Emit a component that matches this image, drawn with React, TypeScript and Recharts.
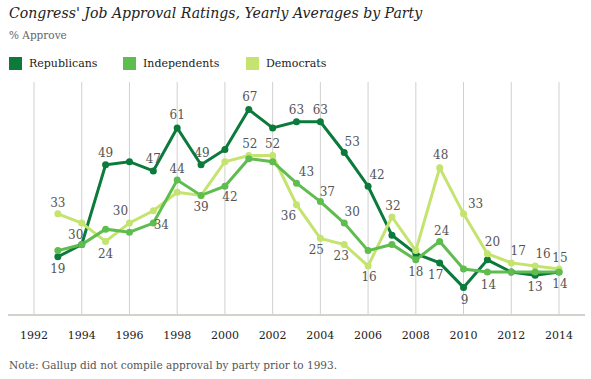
import React from 'react';
import { LineChart, Line, XAxis, YAxis, CartesianGrid, LabelList } from 'recharts';

const years = [1993, 1994, 1995, 1996, 1997, 1998, 1999, 2000, 2001, 2002, 2003, 2004, 2005, 2006, 2007, 2008, 2009, 2010, 2011, 2012, 2013, 2014];
const republicans = [19, 23, 49, 50, 47, 61, 49, 54, 67, 61, 63, 63, 53, 42, 26, 20, 17, 9, 18, 14, 13, 14];
const independents = [21, 23, 28, 27, 30, 44, 39, 42, 51, 50, 43, 37, 30, 21, 23, 18, 24, 15, 14, 14, 14, 14];
const democrats = [33, 30, 24, 30, 34, 40, 39, 50, 52, 52, 36, 25, 23, 16, 32, 21, 48, 33, 20, 17, 16, 15];
const tickYears = [1992, 1994, 1996, 1998, 2000, 2002, 2004, 2006, 2008, 2010, 2012, 2014];

const title = "Congress' Job Approval Ratings, Yearly Averages by Party";
const subtitle = '% Approve';
const note = 'Note: Gallup did not compile approval by party prior to 1993.';

const COLORS = { rep: '#0b7a3b', ind: '#5fbd50', dem: '#c4e36f' };
const FONT = 'DejaVu Serif';

// label placement: year -> [dx, dy] offset of label centre from the point
const repLabels: Record<number, [number, number]> = {
  1993: [0, 12], 1995: [0, -12], 1997: [0, -12], 1998: [0, -13], 1999: [1, -12], 2001: [1, -13],
  2003: [0, -12], 2004: [0, -12], 2005: [8, -11], 2006: [9, -11], 2009: [-4, 12], 2010: [1, 13], 2013: [0, 12],
};
const indLabels: Record<number, [number, number]> = {
  1998: [0, -11], 1999: [0, 12], 2000: [5, 11], 2003: [10, -11], 2004: [7, -10], 2005: [8, -11],
  2008: [0, 12], 2009: [2, -10], 2011: [1, 13], 2014: [1, 12],
};
const demLabels: Record<number, [number, number]> = {
  1993: [0, -11], 1994: [-6, 12], 1995: [0, 13], 1996: [-9, -12], 1997: [8, 14], 2001: [1, -12],
  2002: [0, -12], 2003: [-8, 11], 2004: [-4, 12], 2005: [-3, 12], 2006: [1, 11], 2007: [1, -11],
  2009: [1, -13], 2010: [12, -10], 2011: [5, -12], 2012: [7, -12], 2013: [8, -12], 2014: [1, -11],
};

const data = years.map((year, i) => ({
  year,
  rep: republicans[i],
  ind: independents[i],
  dem: democrats[i],
}));

const makeLabel = (placement: Record<number, [number, number]>) => (props: any) => {
  const { x, y, value, index } = props;
  const yr = years[index];
  const p = placement[yr];
  if (!p) return null;
  return (
    <text
      x={x + p[0]}
      y={y + p[1]}
      textAnchor="middle"
      dominantBaseline="central"
      fontFamily={FONT}
      fontSize={12}
      fill="#555"
    >
      {value}
    </text>
  );
};

const legendItems = [
  { name: 'Republicans', color: COLORS.rep, x: 9 },
  { name: 'Independents', color: COLORS.ind, x: 123 },
  { name: 'Democrats', color: COLORS.dem, x: 246 },
];

export default function App() {
  return (
    <div style={{ position: 'absolute', left: 0, top: 0, width: 591, height: 379, background: '#fff', fontFamily: FONT }}>
      <div style={{ position: 'absolute', left: 9, top: 5, fontSize: 14.1, fontStyle: 'italic', color: '#222', whiteSpace: 'nowrap' }}>
        {title}
      </div>
      <div style={{ position: 'absolute', left: 9, top: 29, fontSize: 10.5, color: '#666', whiteSpace: 'nowrap' }}>
        {subtitle}
      </div>
      {legendItems.map((it) => (
        <div key={it.name} style={{ position: 'absolute', left: it.x, top: 56, height: 15, display: 'flex', alignItems: 'center', whiteSpace: 'nowrap' }}>
          <span style={{ display: 'inline-block', width: 13, height: 13, background: it.color, marginRight: 7 }} />
          <span style={{ fontSize: 11, color: '#222' }}>{it.name}</span>
        </div>
      ))}
      <div style={{ position: 'absolute', left: 0, top: 0 }}>
        <LineChart width={591} height={379} data={data} margin={{ top: 82, right: 6, bottom: 0, left: 8 }}>
          <CartesianGrid horizontal={false} vertical={true} stroke="#d0d0d0" verticalValues={tickYears} />
          <XAxis
            dataKey="year"
            type="number"
            domain={[1990.91, 2015.09]}
            ticks={tickYears}
            allowDataOverflow
            axisLine={{ stroke: '#d3d2cb', strokeWidth: 2 }}
            tickLine={false}
            tickMargin={10}
            tick={{ fontFamily: FONT, fontSize: 11, fill: '#222' }}
            height={64}
          />
          <YAxis hide domain={[0, 76]} type="number" allowDataOverflow />
          <Line dataKey="rep" stroke={COLORS.rep} strokeWidth={3} dot={{ r: 3.5, fill: COLORS.rep, stroke: COLORS.rep, strokeWidth: 0 }} isAnimationActive={false}>
            <LabelList dataKey="rep" content={makeLabel(repLabels)} />
          </Line>
          <Line dataKey="dem" stroke={COLORS.dem} strokeWidth={3} dot={{ r: 3.5, fill: COLORS.dem, stroke: COLORS.dem, strokeWidth: 0 }} isAnimationActive={false}>
            <LabelList dataKey="dem" content={makeLabel(demLabels)} />
          </Line>
          <Line dataKey="ind" stroke={COLORS.ind} strokeWidth={3} dot={{ r: 3.5, fill: COLORS.ind, stroke: COLORS.ind, strokeWidth: 0 }} isAnimationActive={false}>
            <LabelList dataKey="ind" content={makeLabel(indLabels)} />
          </Line>
        </LineChart>
      </div>
      <div style={{ position: 'absolute', left: 9, top: 359, fontSize: 10.5, color: '#555', whiteSpace: 'nowrap' }}>
        {note}
      </div>
    </div>
  );
}
